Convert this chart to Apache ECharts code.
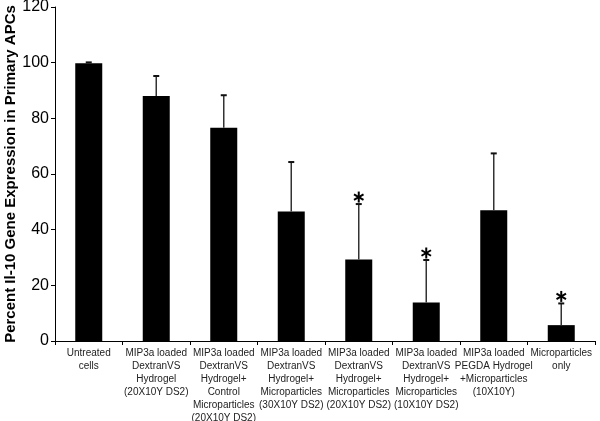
<!DOCTYPE html>
<html><head><meta charset="utf-8">
<script src="https://cdn.jsdelivr.net/npm/echarts@6/dist/echarts.min.js"></script>
<style>html,body{margin:0;padding:0;background:#fff}#c{width:600px;height:421px}</style>
</head><body><div id="c"></div>
<script>
var categories = [
  "Untreated\ncells",
  "MIP3a loaded\nDextranVS\nHydrogel\n(20X10Y DS2)",
  "MIP3a loaded\nDextranVS\nHydrogel+\nControl\nMicroparticles\n(20X10Y DS2)",
  "MIP3a loaded\nDextranVS\nHydrogel+\nMicroparticles\n(30X10Y DS2)",
  "MIP3a loaded\nDextranVS\nHydrogel+\nMicroparticles\n(20X10Y DS2)",
  "MIP3a loaded\nDextranVS\nHydrogel+\nMicroparticles\n(10X10Y DS2)",
  "MIP3a loaded\nPEGDA Hydrogel\n+Microparticles\n(10X10Y)",
  "Microparticles\nonly"
];
var values = [99.8, 88, 76.6, 46.5, 29.3, 13.8, 47, 5.7];
var errUpper = [100.1, 95.2, 88.3, 64.3, 49.2, 29.1, 67.4, 13.5];
var significant = [false, false, false, false, true, true, false, true];
var yTicks = [0, 20, 40, 60, 80, 100, 120];

var chart = echarts.init(document.getElementById('c'));
var errData = categories.map(function(c, i){ return [i, values[i], errUpper[i], significant[i] ? 1 : 0]; });
chart.setOption({
  animation: false,
  grid: {left: 55, right: 5, top: 7, bottom: 80, containLabel: false, outerBoundsMode: 'none'},
  xAxis: {
    type: 'category', data: categories,
    axisLine: {lineStyle: {color: '#000', width: 1}},
    axisTick: {show: true, length: 4, lineStyle: {color: '#000'}},
    axisLabel: {interval: 0, color: '#222', fontFamily: 'Liberation Sans, Arial, sans-serif', fontSize: 10, lineHeight: 13, margin: 6}
  },
  yAxis: {
    type: 'value', min: yTicks[0], max: yTicks[yTicks.length-1], interval: 20,
    name: 'Percent Il-10 Gene Expression in Primary APCs',
    nameLocation: 'middle', nameGap: 37, nameMoveOverlap: false,
    nameTextStyle: {fontFamily: 'Liberation Sans, Arial, sans-serif', fontWeight: 'bold', fontSize: 15, color: '#000'},
    axisLine: {show: true, lineStyle: {color: '#000', width: 1}},
    axisTick: {show: true, length: 4, lineStyle: {color: '#000'}},
    splitLine: {show: false},
    axisLabel: {color: '#000', fontFamily: 'Liberation Sans, Arial, sans-serif', fontSize: 16, margin: 6}
  },
  series: [
    {type: 'bar', data: values, barWidth: 27, itemStyle: {color: '#000'}},
    {type: 'custom', data: errData, z: 5,
     renderItem: function(params, api){
       var x = api.value(0);
       var base = api.coord([x, api.value(1)]);
       var top = api.coord([x, api.value(2)]);
       var children = [
         {type: 'line', shape: {x1: base[0], y1: base[1], x2: top[0], y2: top[1]}, style: {stroke: '#333', lineWidth: 1.5}},
         {type: 'line', shape: {x1: top[0]-3, y1: top[1], x2: top[0]+3, y2: top[1]}, style: {stroke: '#111', lineWidth: 2}}
       ];
       if (api.value(3) === 1) {
         var cx = top[0], cy = top[1] - 7, r = 5.5;
         [90, 30, 150].forEach(function(a){
           var rad = a * Math.PI / 180;
           var dx = r * Math.cos(rad), dy = r * Math.sin(rad);
           children.push({type: 'line', shape: {x1: cx - dx, y1: cy - dy, x2: cx + dx, y2: cy + dy}, style: {stroke: '#000', lineWidth: 2}});
         });
       }
       return {type: 'group', children: children};
     }}
  ]
});
</script></body></html>
